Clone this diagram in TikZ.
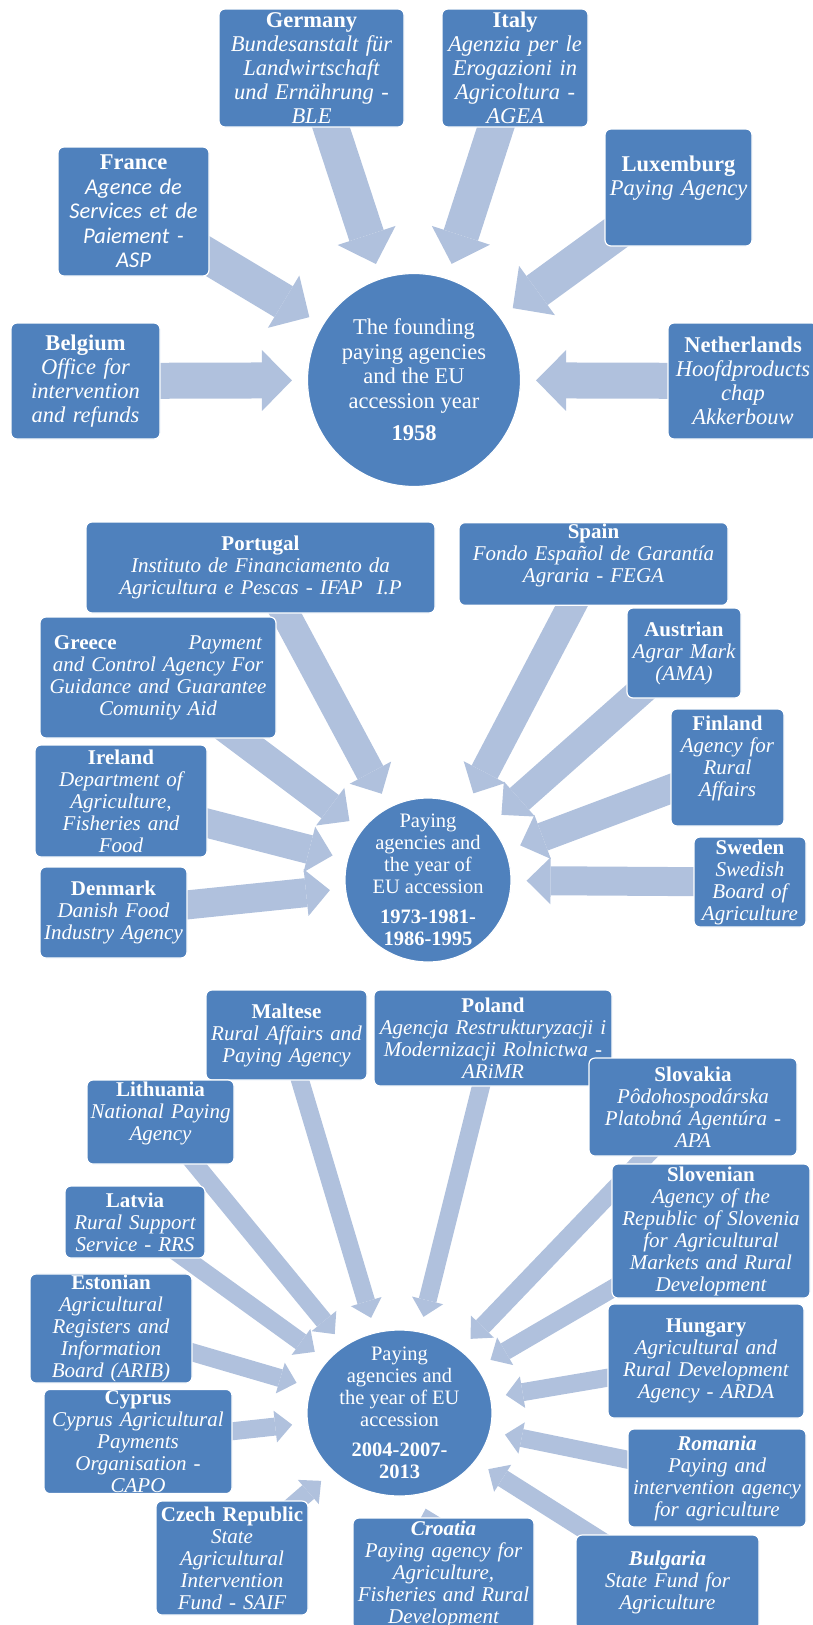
\documentclass[tikz,border=0pt]{standalone}
\usepackage{fontspec}
\setmainfont{Liberation Serif}
\newfontfamily\calibri{Carlito}
\usepackage{xcolor}
\usepackage{tikz}
\usetikzlibrary{arrows.meta,backgrounds,shapes.geometric}
\definecolor{paBlue}{HTML}{4F81BD}
\definecolor{paArrow}{HTML}{B0C1DD}
\newcommand{\cty}[1]{{\rmfamily\upshape\bfseries #1}}
\tikzset{
  pa diagram/.style={x=1pt, y=-1pt, text=white},
  pa box/.style={fill=paBlue, draw=white, line width=1.2pt,
    rounded corners=6pt, align=center, inner sep=1pt,
    font=\fontsize{21}{22}\selectfont\itshape},
  pa large/.style={font=\fontsize{22.5}{24}\selectfont\itshape},
  pa size/.style 2 args={minimum width=#1pt, minimum height=#2pt,
    text width=#1pt-2pt},
  pa hub/.style={ellipse, fill=paBlue, draw=white, line width=1.2pt,
    inner sep=0pt},
  pa hub text/.style={align=center, font=\fontsize{20.5}{22}\selectfont},
  pa arrow/.style={draw=paArrow, line width=#1, shorten >=15pt},
  pa arrow A/.style={pa arrow=36pt,
    -{Triangle[length=30pt, width=61pt, line width=0pt]}},
  pa arrow B/.style={pa arrow=29pt,
    -{Triangle[length=24pt, width=47pt, line width=0pt]}},
  pa arrow C/.style={pa arrow=18pt,
    -{Triangle[length=17pt, width=32pt, line width=0pt]}}
}

\begin{document}
\begin{tikzpicture}[pa diagram]
\useasboundingbox (0,0) rectangle (813,1625);

% founding members, 1958
\node[pa hub, minimum width=213pt, minimum height=213pt] (hubA) at (414,380) {};
\node[pa hub text, font=\fontsize{22.5}{24.5}\selectfont] (yearsA) at (hubA)
  {The founding\\paying agencies\\and the EU\\accession year\\[8pt]\textbf{1958}};
\node[pa box, pa large, pa size={185}{118}] (germany) at (311.5,68)
  {\cty{Germany}\\Bundesanstalt für\\Landwirtschaft\\und Ernährung -\\BLE};
\node[pa box, pa large, pa size={146}{118}] (italy) at (515,68)
  {\cty{Italy}\\Agenzia per le\\Erogazioni in\\Agricoltura -\\AGEA};
\node[pa box, font=\fontsize{22.5}{24.5}\selectfont\calibri\itshape,
  pa size={151}{129}] (france) at (133.5,211.5)
  {\cty{France}\\Agence de\\Services et de\\Paiement -\\ASP};
\node[pa box, pa large, pa size={147}{117}] (luxemburg) at (678.5,187.5)
  {\cty{Luxemburg}\\Paying Agency\\\mbox{}};
\node[pa box, pa large, pa size={149}{116}] (belgium) at (85.5,381)
  {\cty{Belgium}\\Office for\\intervention\\and refunds};
\node[pa box, pa large, pa size={150}{116}] (netherlands) at (743,381)
  {\cty{Netherlands}\\Hoofdproducts\\chap\\Akkerbouw};

% 1973-1995 enlargements
\node[pa hub, minimum width=166pt, minimum height=164pt] (hubB) at (428,880) {};
\node[pa hub text] (yearsB) at (hubB)
  {Paying\\agencies and\\the year of\\EU accession\\[8pt]\textbf{1973-1981-}\\\textbf{1986-1995}};
\node[pa box, pa size={349}{91}] (portugal) at (260.5,567.5)
  {\cty{Portugal}\\Instituto de Financiamento da\\Agricultura e Pescas - IFAP\ \ I.P};
\node[pa box, pa size={269}{82}] (spain) at (593.5,564)
  {\cty{Spain}\\Fondo Español de Garantía\\Agraria - FEGA\\\mbox{}};
\node[pa box, pa size={236}{121}] (greece) at (158,677.5)
  {\makebox[208pt]{\cty{Greece}\hfill Payment}\\and Control Agency For\\Guidance and Guarantee\\Comunity Aid};
\node[pa box, pa size={114}{90}] (austrian) at (684,653)
  {\cty{Austrian}\\Agrar Mark\\(AMA)};
\node[pa box, pa size={113}{117}] (finland) at (727.5,767.5)
  {\cty{Finland}\\Agency for\\Rural\\Affairs\\\mbox{}};
\node[pa box, pa size={172}{112}] (ireland) at (121,801)
  {\cty{Ireland}\\Department of\\Agriculture,\\Fisheries and\\Food};
\node[pa box, pa size={112}{90}] (sweden) at (750,882)
  {\cty{Sweden}\\Swedish\\Board of\\Agriculture};
\node[pa box, pa size={147}{91}] (denmark) at (113.5,912.5)
  {\cty{Denmark}\\Danish Food\\Industry Agency};

% 2004-2013 enlargements
\node[pa hub, minimum width=185pt, minimum height=166pt] (hubC) at (399.5,1413) {};
\node[pa hub text] (yearsC) at (hubC)
  {Paying\\agencies and\\the year of EU\\accession\\[8pt]\textbf{2004-2007-}\\\textbf{2013}};
\node[pa box, pa size={161}{90}] (maltese) at (286.5,1035)
  {\cty{Maltese}\\Rural Affairs and\\Paying Agency};
\node[pa box, pa size={238}{96}] (poland) at (493,1038)
  {\cty{Poland}\\Agencja Restrukturyzacji i\\Modernizacji Rolnictwa -\\ARiMR};
\node[pa box, pa size={147}{84}] (lithuania) at (160.5,1122)
  {\cty{Lithuania}\\National Paying\\Agency\\\mbox{}};
\node[pa box, pa size={208}{98}] (slovakia) at (693,1107)
  {\cty{Slovakia}\\Pôdohospodárska\\Platobná Agentúra -\\APA};
\node[pa box, pa size={140}{72}] (latvia) at (135,1222)
  {\cty{Latvia}\\Rural Support\\Service - RRS};
\node[pa box, pa size={198}{134}] (slovenian) at (711,1231)
  {\cty{Slovenian}\\Agency of the\\Republic of Slovenia\\for Agricultural\\Markets and Rural\\Development};
\node[pa box, pa size={162}{109}] (estonian) at (111,1328.5)
  {\cty{Estonian}\\Agricultural\\Registers and\\Information\\Board (ARIB)};
\node[pa box, pa size={196}{114}] (hungary) at (706,1361)
  {\cty{Hungary}\\Agricultural and\\Rural Development\\Agency - ARDA};
\node[pa box, pa size={188}{103}] (cyprus) at (138,1441.5)
  {\cty{Cyprus}\\Cyprus Agricultural\\Payments\\Organisation -\\CAPO};
\node[pa box, pa size={178}{98}] (romania) at (717,1478)
  {{\bfseries Romania}\\Paying and\\intervention agency\\for agriculture};
\node[pa box, pa size={152}{114}] (czech) at (232,1558)
  {\cty{Czech Republic}\\State\\Agricultural\\Intervention\\Fund - SAIF};
\node[pa box, pa size={181}{112}] (croatia) at (443.5,1574)
  {{\bfseries Croatia}\\Paying agency for\\Agriculture,\\Fisheries and Rural\\Development};
\node[pa box, pa size={183}{95}] (bulgaria) at (667.5,1582.5)
  {{\bfseries Bulgaria}\\State Fund for\\Agriculture};

% arrows run from each agency into its hub, under the boxes
\begin{pgfonlayer}{background}
\foreach \src in {germany,italy,france,luxemburg,belgium,netherlands}
  \draw[pa arrow A] (\src.center) -- (hubA);
\foreach \src in {portugal,spain,greece,austrian,finland,ireland,sweden,denmark}
  \draw[pa arrow B] (\src.center) -- (hubB);
\foreach \src in {maltese,poland,lithuania,slovakia,latvia,slovenian,estonian,
    hungary,cyprus,romania,czech,croatia,bulgaria}
  \draw[pa arrow C] (\src.center) -- (hubC);
\end{pgfonlayer}
\end{tikzpicture}
\end{document}
